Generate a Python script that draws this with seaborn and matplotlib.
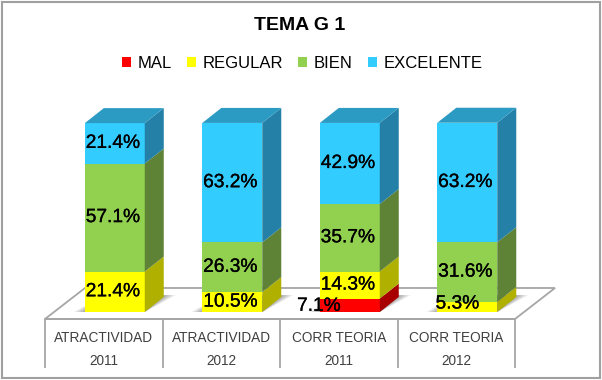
import numpy as np
import pandas as pd
import matplotlib.pyplot as plt
import matplotlib.patheffects as pe
import seaborn as sns
from matplotlib.patches import Polygon, Rectangle

# -------- datos --------
categorias = ['ATRACTIVIDAD\n2011', 'ATRACTIVIDAD\n2012', 'CORR TEORIA\n2011', 'CORR TEORIA\n2012']
mal = [0, 0, 7.1, 0]
regular = [21.4, 10.5, 14.3, 5.3]
bien = [57.1, 26.3, 35.7, 31.6]
excelente = [21.4, 63.2, 42.9, 63.2]
series = ['MAL', 'REGULAR', 'BIEN', 'EXCELENTE']

# -------- estilo --------
sns.set_theme(style='white')
plt.rcParams['font.family'] = ['Liberation Sans', 'DejaVu Sans']

frente = ['#FF0000', '#FFFF00', '#92D050', '#33CCFF']
lateral = ['#A80000', '#B0B000', '#5E8236', '#2480A6']
techo = '#2C9BC3'
gris = '#A6A6A6'

W, H = 602, 380
fig = plt.figure(figsize=(W / 100, H / 100), dpi=100, facecolor='white')
fig.add_artist(Rectangle((2 / W, 2 / H), 598 / W, 376 / H, transform=fig.transFigure,
                         fill=False, ec='#A0A0A0', lw=1.5))
ax = fig.add_axes([45 / W, 61 / H, 470 / W, 211 / H])
ax.patch.set_alpha(0)

df = pd.DataFrame({'cat': categorias, 'MAL': mal, 'REGULAR': regular,
                   'BIEN': bien, 'EXCELENTE': excelente})

base = np.zeros(len(categorias))
for nombre, color in zip(series, frente):
    sns.barplot(data=df, x='cat', y=nombre, color=color, bottom=base, width=0.51,
                saturation=1, linewidth=0, ax=ax, label=nombre, legend=False)
    base = base + df[nombre].to_numpy()

# escala: 117.5 px por categoria, 1.89 px por punto porcentual
px_x = 1 / 117.5
px_y = 1 / 1.89
ax.set_xlim(-0.594, 3.406)
ax.set_ylim(-3.7, 107.9)
dx, dy = 19 * px_x, 15 * px_y


def poly(puntos, **kw):
    ax.add_patch(Polygon(puntos, closed=True, clip_on=False, lw=0, **kw))


# piso
x0, x1 = ax.get_xlim()
y_f, y_b = -3.7, 12.7
ax.add_patch(Polygon([(x0, y_f), (x1, y_f), (x1 + 40 * px_x, y_b), (x0 + 40 * px_x, y_b)],
                     closed=True, clip_on=False, fc='white', ec=gris, lw=1.3, zorder=0.5))

# sombra y caras del bloque 3D, a partir de las barras dibujadas
for k, barra in enumerate(ax.containers[0]):
    izq = barra.get_x()
    der = izq + barra.get_width()
    for capa in range(6):
        m = capa * 2.2
        poly([(izq - m * px_x, 0), (der, 0), (der + dx + (12 - m) * px_x, dy + 1),
              (izq + dx, dy + 1)], fc='black', alpha=0.07, zorder=0.6)

for cont, col in zip(ax.containers, lateral):
    for barra in cont:
        der = barra.get_x() + barra.get_width()
        y0 = barra.get_y()
        y1 = y0 + barra.get_height()
        poly([(der, y0), (der + dx, y0 + dy), (der + dx, y1 + dy), (der, y1)], fc=col, zorder=1)

for barra in ax.containers[-1]:
    izq = barra.get_x()
    der = izq + barra.get_width()
    y1 = barra.get_y() + barra.get_height()
    poly([(izq, y1), (der, y1), (der + dx, y1 + dy), (izq + dx, y1 + dy)], fc=techo, zorder=1)

# etiquetas de datos (desplazamiento en px para las pequeñas)
ajuste = {(0, 2): (-31, -1), (1, 3): (-10, 3)}
for s, cont in enumerate(ax.containers):
    for c, barra in enumerate(cont):
        v = barra.get_height()
        if v == 0:
            continue
        ox, oy = ajuste.get((s, c), (-2, 0))
        ax.annotate(f'{v:.1f}%', (barra.get_x() + barra.get_width() / 2, barra.get_y() + v / 2),
                    xytext=(ox * 0.72, oy * 0.72), textcoords='offset points',
                    ha='center', va='center', fontsize=13.8, color='black', zorder=5,
                    annotation_clip=False,
                    path_effects=[pe.withStroke(linewidth=0.2, foreground='black')])

# tabla de ejes
ax.set_xlabel('')
ax.set_ylabel('')
ax.set_yticks([])
ax.set_xticks(np.arange(len(categorias)) - 0.094, labels=categorias)
ax.set_xticks(np.arange(5) - 0.594, minor=True)
ax.tick_params(axis='x', which='major', length=0, pad=9, labelsize=9.8, labelcolor='#404040')
ax.tick_params(axis='x', which='minor', length=35, width=1.3, color=gris, bottom=True)
for t in ax.get_xticklabels():
    t.set_linespacing(1.8)
for lado in ['left', 'right', 'top']:
    ax.spines[lado].set_visible(False)
ax.spines['bottom'].set_color(gris)
ax.spines['bottom'].set_linewidth(1.3)
ax.spines['bottom'].set_zorder(0.55)

fig.text(300 / W, 1 - 25 / H, 'TEMA G 1', ha='center', va='center',
         fontsize=14, fontweight='bold', color='black')
fig.legend(handles=[c[0] for c in ax.containers], labels=series, loc='center',
           bbox_to_anchor=(302 / W, 1 - 63 / H), ncol=4, frameon=False, fontsize=12,
           handlelength=0.55, handleheight=0.55, handletextpad=0.4, columnspacing=0.9,
           borderpad=0, labelcolor='black')

fig.savefig('out.png', dpi=100)
